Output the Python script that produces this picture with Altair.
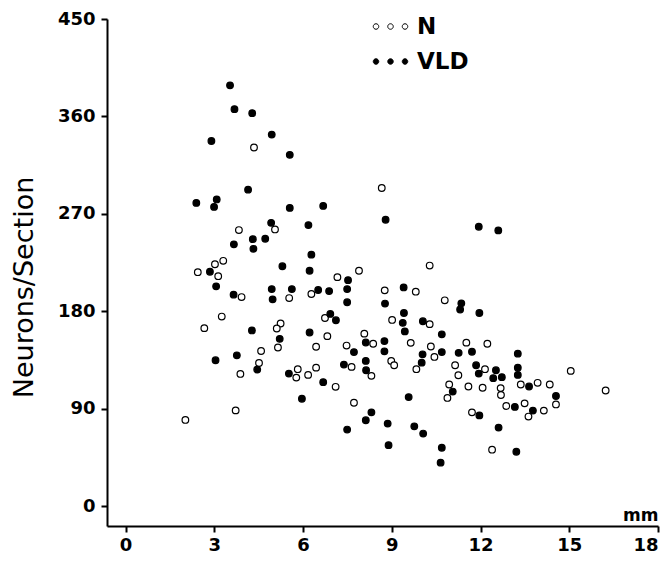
import altair as alt
import pandas as pd

# ---- data (mm from origin, neurons per section) ----
n_x = [4.34, 3.83, 3.30, 3.02, 2.44, 3.13, 3.92, 3.25, 2.66, 3.88, 4.58, 4.51, 3.72, 2.02,
       8.66, 5.05, 10.28, 7.89, 7.16, 8.76, 9.81, 5.53, 6.28, 10.79, 6.74, 9.01, 10.28,
       5.24, 5.11, 6.82, 8.07, 5.15, 6.44, 7.47, 8.37, 9.64, 10.32, 11.52, 10.44, 9.83,
       8.98, 9.08, 8.31, 7.64, 5.82, 5.77, 6.17, 6.44, 7.10, 7.72, 11.14, 11.25, 10.94,
       10.88, 11.59, 11.71, 12.23, 12.15, 12.07, 12.68, 12.69, 13.36, 13.93, 14.34, 15.05,
       16.23, 14.55, 13.49, 12.87, 13.62, 14.14, 12.39]
n_y = [331.3, 255.0, 226.6, 223.4, 216.1, 212.4, 193.1, 175.1, 164.4, 122.1, 143.3, 132.2,
       88.4, 79.6, 293.9, 255.6, 222.2, 217.4, 211.5, 199.3, 198.1, 192.2, 195.9, 190.1,
       173.8, 172.0, 168.1, 168.7, 164.1, 157.0, 159.3, 146.5, 147.2, 148.3, 150.0, 150.8,
       147.4, 151.0, 137.8, 126.5, 134.1, 130.1, 120.3, 128.6, 126.5, 118.7, 121.2, 127.9,
       110.2, 95.5, 130.1, 120.9, 112.3, 99.9, 110.5, 86.6, 150.0, 126.5, 109.3, 109.0,
       102.6, 112.3, 113.9, 112.3, 124.9, 106.8, 93.9, 94.9, 92.5, 82.7, 88.2, 52.1]

vld_x = [3.53, 3.68, 4.28, 4.94, 2.90, 5.55, 4.14, 3.08, 2.39, 2.99, 5.55, 6.68, 8.79,
         4.92, 6.18, 11.94, 12.60, 4.30, 3.66, 4.72, 4.32, 6.28, 5.30, 6.22, 2.85, 7.52,
         3.06, 4.94, 5.62, 6.51, 6.88, 7.49, 9.40, 3.65, 4.97, 7.49, 8.77, 11.35, 11.31,
         11.96, 6.92, 7.11, 9.41, 9.37, 10.05, 9.44, 10.69, 4.27, 6.22, 5.21, 8.12, 8.75,
         3.76, 3.04, 4.45, 7.72, 8.75, 10.04, 10.69, 11.26, 11.71, 10.01, 8.12, 8.13, 7.38,
         5.52, 6.68, 5.96, 8.31, 8.12, 7.49, 8.86, 9.76, 10.06, 8.89, 10.69, 10.65, 9.57,
         11.06, 11.85, 11.94, 12.52, 12.43, 12.72, 13.26, 13.26, 13.26, 13.64, 14.55, 13.16,
         13.77, 11.96, 12.61, 13.21]
vld_y = [388.7, 366.7, 363.0, 343.2, 337.3, 324.5, 292.3, 283.3, 280.1, 276.4, 275.5,
         277.3, 264.5, 261.7, 259.6, 258.1, 254.7, 246.6, 241.8, 247.0, 237.7, 232.3, 221.6,
         217.4, 216.5, 208.7, 203.0, 200.5, 200.5, 199.6, 198.6, 200.5, 202.0, 195.3, 191.0,
         188.3, 187.1, 187.3, 181.6, 178.4, 177.5, 171.7, 178.4, 169.3, 170.8, 161.4, 158.7,
         162.3, 160.4, 154.5, 151.1, 152.4, 139.3, 134.7, 126.1, 142.3, 143.0, 140.2, 142.3,
         141.6, 142.6, 132.5, 134.1, 125.5, 130.7, 122.4, 114.5, 99.2, 86.6, 79.3, 70.7,
         76.2, 73.7, 67.0, 56.3, 53.9, 40.1, 100.7, 105.8, 130.1, 122.4, 125.5, 118.2, 119.1,
         140.8, 127.9, 121.2, 110.5, 101.7, 91.6, 88.2, 83.8, 72.5, 50.2]

groups = ["N", "VLD"]
x_ticks = [0, 3, 6, 9, 12, 15, 18]
y_ticks = [0, 90, 180, 270, 360, 450]

df = pd.concat([
    pd.DataFrame({"mm": n_x, "neurons": n_y, "group": "N"}),
    pd.DataFrame({"mm": vld_x, "neurons": vld_y, "group": "VLD"}),
], ignore_index=True)


def three_dots(r, gap):
    parts = []
    for cx in (-gap, 0.0, gap):
        parts.append(
            f"M{cx - r:.3f},0A{r},{r},0,1,1,{cx + r:.3f},0A{r},{r},0,1,1,{cx - r:.3f},0Z"
        )
    return "".join(parts)


legend_symbol = three_dots(0.55, 2.9)

FONT = "DejaVu Sans"

chart = alt.Chart(df).mark_point(
    filled=True, shape="circle", stroke="black", strokeWidth=1.2, opacity=1, size=44
).encode(
    x=alt.X(
        "mm:Q",
        scale=alt.Scale(domain=[-0.63, 18], nice=False, zero=False),
        axis=alt.Axis(
            values=x_ticks, title="mm", grid=False,
            labelFont=FONT, labelFontWeight="bold", labelFontSize=18,
            labelPadding=4, tickSize=6, tickWidth=2, domainWidth=2,
            domainColor="black", tickColor="black", labelColor="black",
            titleFont=FONT, titleFontWeight="bold", titleFontSize=17,
            titleAngle=0, titleAlign="right", titleBaseline="alphabetic",
            titleX=551, titleY=-6, titleColor="black",
        ),
    ),
    y=alt.Y(
        "neurons:Q",
        scale=alt.Scale(domain=[-18.4, 450], nice=False, zero=False),
        axis=alt.Axis(
            values=y_ticks, title="Neurons/Section", grid=False,
            labelFont=FONT, labelFontWeight="bold", labelFontSize=18,
            labelPadding=6, tickSize=6, tickWidth=2, domainWidth=2,
            domainColor="black", tickColor="black", labelColor="black",
            titleFont=FONT, titleFontWeight="normal", titleFontSize=27,
            titleAngle=270, titleAlign="center", titleBaseline="middle",
            titleX=-83, titleY=268, titleColor="black",
        ),
    ),
    fill=alt.Fill(
        "group:N",
        scale=alt.Scale(domain=groups, range=["white", "black"]),
        legend=alt.Legend(
            title=None, orient="none", legendX=272, legendY=-4, padding=0,
            symbolType=legend_symbol, symbolSize=100, symbolStrokeColor="black",
            symbolStrokeWidth=1, labelFont=FONT, labelFontWeight="bold",
            labelFontSize=23, labelColor="black", labelOffset=15, rowPadding=11,
        ),
    ),
).properties(
    width=551,
    height=507,
    padding={"left": 99, "top": 11, "right": 3, "bottom": 29},
    autosize=alt.AutoSizeParams(type="none"),
    background="white",
).configure_view(stroke=None)

chart.save("out.html", embed_options={"renderer": "svg", "actions": False})
